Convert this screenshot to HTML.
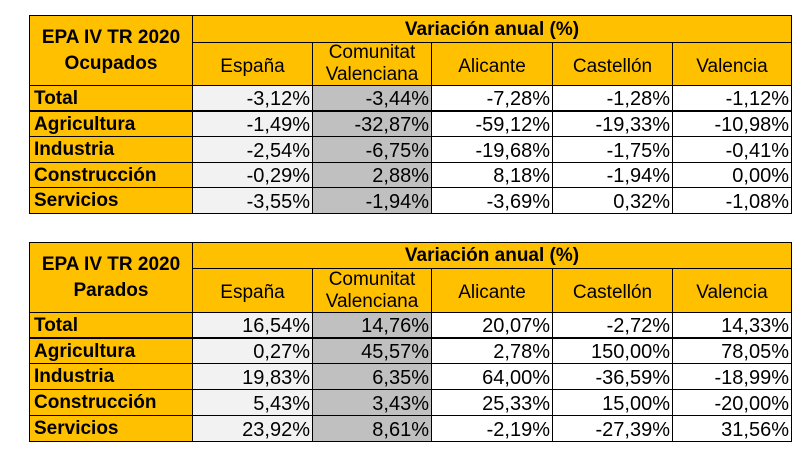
<!DOCTYPE html>
<html><head><meta charset="utf-8"><style>
body{margin:0;width:812px;height:454px;background:#fff;position:relative;overflow:hidden;font-family:"Liberation Sans",Arial,sans-serif;color:#000}
.c{position:absolute;box-sizing:border-box;border:1px solid #000;font-size:20px;line-height:1;display:flex;align-items:center;white-space:nowrap}
.o{background:#ffc000;font-size:19px}
.l{font-weight:bold;font-size:19px;padding-left:4px}
.v{justify-content:flex-end;padding-right:2px;padding-top:2px}
.h{justify-content:center;text-align:center}
.e{background:#f2f2f2}.g{background:#c0c0c0}.w{background:#fff}
</style></head><body>
<!-- Table 1 -->
<div class="c o h" style="left:29px;top:15px;width:164px;height:71px;font-weight:bold;font-size:19px;line-height:26px">EPA IV TR 2020<br>Ocupados</div>
<div class="c o h" style="left:192px;top:15px;width:600px;height:28px;font-weight:bold;font-size:19px">Variación anual (%)</div>
<div class="c o h" style="left:192px;top:42px;width:121px;height:44px;padding-top:4px">España</div>
<div class="c o h" style="left:312px;top:42px;width:120px;height:44px;line-height:22px">Comunitat<br>Valenciana</div>
<div class="c o h" style="left:431px;top:42px;width:122px;height:44px;padding-top:4px">Alicante</div>
<div class="c o h" style="left:552px;top:42px;width:121px;height:44px;padding-top:4px">Castellón</div>
<div class="c o h" style="left:672px;top:42px;width:120px;height:44px;padding-top:4px">Valencia</div>

<div class="c o l" style="left:29px;top:85px;width:164px;height:27px;border-bottom-width:2px">Total</div>
<div class="c v e" style="left:192px;top:85px;width:121px;height:27px;border-bottom-width:2px">-3,12%</div>
<div class="c v g" style="left:312px;top:85px;width:120px;height:27px;border-bottom-width:2px">-3,44%</div>
<div class="c v w" style="left:431px;top:85px;width:122px;height:27px;border-bottom-width:2px">-7,28%</div>
<div class="c v w" style="left:552px;top:85px;width:121px;height:27px;border-bottom-width:2px">-1,28%</div>
<div class="c v w" style="left:672px;top:85px;width:120px;height:27px;border-bottom-width:2px">-1,12%</div>

<div class="c o l" style="left:29px;top:111px;width:164px;height:26px">Agricultura</div>
<div class="c v e" style="left:192px;top:111px;width:121px;height:26px">-1,49%</div>
<div class="c v g" style="left:312px;top:111px;width:120px;height:26px">-32,87%</div>
<div class="c v w" style="left:431px;top:111px;width:122px;height:26px">-59,12%</div>
<div class="c v w" style="left:552px;top:111px;width:121px;height:26px">-19,33%</div>
<div class="c v w" style="left:672px;top:111px;width:120px;height:26px">-10,98%</div>

<div class="c o l" style="left:29px;top:136px;width:164px;height:27px">Industria</div>
<div class="c v e" style="left:192px;top:136px;width:121px;height:27px">-2,54%</div>
<div class="c v g" style="left:312px;top:136px;width:120px;height:27px">-6,75%</div>
<div class="c v w" style="left:431px;top:136px;width:122px;height:27px">-19,68%</div>
<div class="c v w" style="left:552px;top:136px;width:121px;height:27px">-1,75%</div>
<div class="c v w" style="left:672px;top:136px;width:120px;height:27px">-0,41%</div>

<div class="c o l" style="left:29px;top:162px;width:164px;height:26px">Construcción</div>
<div class="c v e" style="left:192px;top:162px;width:121px;height:26px">-0,29%</div>
<div class="c v g" style="left:312px;top:162px;width:120px;height:26px">2,88%</div>
<div class="c v w" style="left:431px;top:162px;width:122px;height:26px">8,18%</div>
<div class="c v w" style="left:552px;top:162px;width:121px;height:26px">-1,94%</div>
<div class="c v w" style="left:672px;top:162px;width:120px;height:26px">0,00%</div>

<div class="c o l" style="left:29px;top:187px;width:164px;height:27px">Servicios</div>
<div class="c v e" style="left:192px;top:187px;width:121px;height:27px">-3,55%</div>
<div class="c v g" style="left:312px;top:187px;width:120px;height:27px">-1,94%</div>
<div class="c v w" style="left:431px;top:187px;width:122px;height:27px">-3,69%</div>
<div class="c v w" style="left:552px;top:187px;width:121px;height:27px">0,32%</div>
<div class="c v w" style="left:672px;top:187px;width:120px;height:27px">-1,08%</div>

<!-- Table 2 -->
<div class="c o h" style="left:29px;top:242px;width:164px;height:71px;font-weight:bold;font-size:19px;line-height:26px">EPA IV TR 2020<br>Parados</div>
<div class="c o h" style="left:192px;top:242px;width:600px;height:27px;font-weight:bold;font-size:19px">Variación anual (%)</div>
<div class="c o h" style="left:192px;top:268px;width:121px;height:45px;padding-top:4px">España</div>
<div class="c o h" style="left:312px;top:268px;width:120px;height:45px;line-height:22px">Comunitat<br>Valenciana</div>
<div class="c o h" style="left:431px;top:268px;width:122px;height:45px;padding-top:4px">Alicante</div>
<div class="c o h" style="left:552px;top:268px;width:121px;height:45px;padding-top:4px">Castellón</div>
<div class="c o h" style="left:672px;top:268px;width:120px;height:45px;padding-top:4px">Valencia</div>

<div class="c o l" style="left:29px;top:312px;width:164px;height:27px;border-bottom-width:2px">Total</div>
<div class="c v e" style="left:192px;top:312px;width:121px;height:27px;border-bottom-width:2px">16,54%</div>
<div class="c v g" style="left:312px;top:312px;width:120px;height:27px;border-bottom-width:2px">14,76%</div>
<div class="c v w" style="left:431px;top:312px;width:122px;height:27px;border-bottom-width:2px">20,07%</div>
<div class="c v w" style="left:552px;top:312px;width:121px;height:27px;border-bottom-width:2px">-2,72%</div>
<div class="c v w" style="left:672px;top:312px;width:120px;height:27px;border-bottom-width:2px">14,33%</div>

<div class="c o l" style="left:29px;top:338px;width:164px;height:26px">Agricultura</div>
<div class="c v e" style="left:192px;top:338px;width:121px;height:26px">0,27%</div>
<div class="c v g" style="left:312px;top:338px;width:120px;height:26px">45,57%</div>
<div class="c v w" style="left:431px;top:338px;width:122px;height:26px">2,78%</div>
<div class="c v w" style="left:552px;top:338px;width:121px;height:26px">150,00%</div>
<div class="c v w" style="left:672px;top:338px;width:120px;height:26px">78,05%</div>

<div class="c o l" style="left:29px;top:363px;width:164px;height:27px">Industria</div>
<div class="c v e" style="left:192px;top:363px;width:121px;height:27px">19,83%</div>
<div class="c v g" style="left:312px;top:363px;width:120px;height:27px">6,35%</div>
<div class="c v w" style="left:431px;top:363px;width:122px;height:27px">64,00%</div>
<div class="c v w" style="left:552px;top:363px;width:121px;height:27px">-36,59%</div>
<div class="c v w" style="left:672px;top:363px;width:120px;height:27px">-18,99%</div>

<div class="c o l" style="left:29px;top:389px;width:164px;height:27px">Construcción</div>
<div class="c v e" style="left:192px;top:389px;width:121px;height:27px">5,43%</div>
<div class="c v g" style="left:312px;top:389px;width:120px;height:27px">3,43%</div>
<div class="c v w" style="left:431px;top:389px;width:122px;height:27px">25,33%</div>
<div class="c v w" style="left:552px;top:389px;width:121px;height:27px">15,00%</div>
<div class="c v w" style="left:672px;top:389px;width:120px;height:27px">-20,00%</div>

<div class="c o l" style="left:29px;top:415px;width:164px;height:27px">Servicios</div>
<div class="c v e" style="left:192px;top:415px;width:121px;height:27px">23,92%</div>
<div class="c v g" style="left:312px;top:415px;width:120px;height:27px">8,61%</div>
<div class="c v w" style="left:431px;top:415px;width:122px;height:27px">-2,19%</div>
<div class="c v w" style="left:552px;top:415px;width:121px;height:27px">-27,39%</div>
<div class="c v w" style="left:672px;top:415px;width:120px;height:27px">31,56%</div>
</body></html>
